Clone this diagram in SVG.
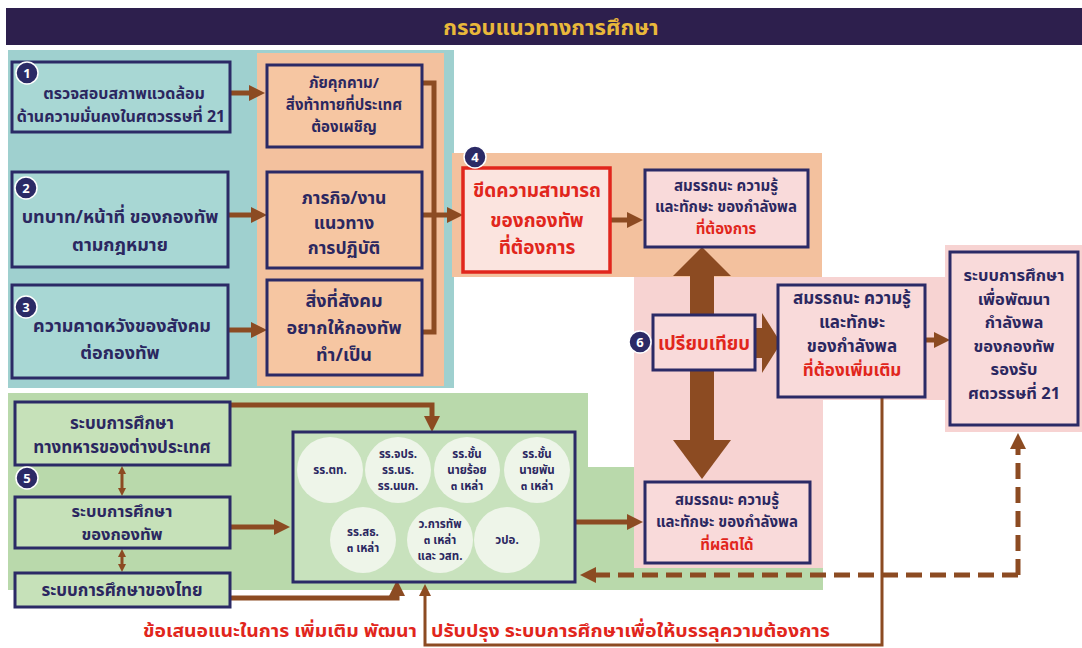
<svg xmlns="http://www.w3.org/2000/svg" width="1082" height="648" viewBox="0 0 1082 648">
<style>
.t{font-family:'Noto Sans Thai','Noto Sans Thai UI','Noto Sans','DejaVu Sans',sans-serif;font-weight:700;text-anchor:middle;fill:#2b2760}
.r{fill:#e1261c}
.box{stroke:#2b2a66;stroke-width:3}
.teal{fill:#a8d7d4}
.peach{fill:#f6c6a2}
.pink{fill:#f9dada}
.green{fill:#c6e1b9}
.arw{fill:none;stroke:#8c4b22;stroke-width:5}
.thin{fill:none;stroke:#8c4b22;stroke-width:3}
.dash{fill:none;stroke:#8c4b22;stroke-width:5;stroke-dasharray:16 8}
.badge{fill:#2b2a66;stroke:#fff;stroke-width:1.5}
.bt{font-family:'Noto Sans','DejaVu Sans',sans-serif;font-weight:700;font-size:13px;fill:#fff;text-anchor:middle}
.circ{fill:#eef5e9}
.ct{font-size:11.5px}
</style>
<defs>
<marker id="ah" viewBox="0 0 10 10" refX="0" refY="5" markerWidth="16" markerHeight="18" markerUnits="userSpaceOnUse" orient="auto"><path d="M0,0 L10,5 L0,10 z" fill="#8c4b22"/></marker>
<marker id="as" viewBox="0 0 10 10" refX="0" refY="5" markerWidth="12" markerHeight="12" markerUnits="userSpaceOnUse" orient="auto"><path d="M0,0 L10,5 L0,10 z" fill="#8c4b22"/></marker>
<marker id="ad" viewBox="0 0 10 10" refX="0" refY="5" markerWidth="8" markerHeight="8" markerUnits="userSpaceOnUse" orient="auto-start-reverse"><path d="M0,0 L10,5 L0,10 z" fill="#8c4b22"/></marker>
</defs>

<!-- title -->
<g id="title">
<rect x="6" y="8" width="1076" height="37" fill="#2d1f4d"/>
<text x="551" y="35" class="t" style="fill:#e9b83a;font-size:22px">กรอบแนวทางการศึกษา</text>
</g>

<!-- background panels -->
<g id="panels">
<rect x="8" y="50" width="446" height="338" fill="#9fd0cf"/>
<rect x="257" y="53" width="187" height="333" fill="#f3c19e"/>
<rect x="452" y="153" width="370" height="124" fill="#f3c19e"/>
<polygon points="8,393 588,393 588,467 823,467 823,590 8,590" fill="#b9d9ab"/>
<polygon points="634,277 945,277 945,400 823,400 823,568 634,568" fill="#f7d3d2"/>
<rect x="945" y="245" width="137" height="187" fill="#f7d3d2"/>
</g>

<!-- connectors -->
<g id="connectors">
<path class="arw" d="M230,93 H249" marker-end="url(#ah)"/>
<path class="arw" d="M228,215 H251" marker-end="url(#ah)"/>
<path class="arw" d="M228,330 H251" marker-end="url(#ah)"/>
<path class="arw" d="M422,83 H434 V332 H422"/>
<path class="arw" d="M422,215 H434"/>
<path class="arw" d="M434,215 H447" marker-end="url(#ah)"/>
<path class="arw" d="M610,220 H627" marker-end="url(#ah)"/>
<path class="arw" d="M925,340 H934" marker-end="url(#ah)"/>
<path class="arw" d="M230,405 H432 V416" marker-end="url(#ah)"/>
<path class="arw" d="M230,527 H274" marker-end="url(#ah)"/>
<path class="arw" d="M230,598 H397 V596" marker-end="url(#ah)"/>
<path class="arw" d="M575,522 H627" marker-end="url(#ah)"/>
<path class="thin" d="M122,474 V488" marker-start="url(#ad)" marker-end="url(#ad)"/>
<path class="thin" d="M122,557 V564" marker-start="url(#ad)" marker-end="url(#ad)"/>
<path class="dash" d="M1018,575 V449" marker-end="url(#ah)"/>
<path class="dash" d="M1018,575 H596" marker-end="url(#ah)"/>
<path class="thin" d="M882,397 V645 H425 V596" marker-end="url(#as)"/>
<!-- big double arrow -->
<rect x="690" y="274" width="24" height="168" fill="#8c4b22"/>
<polygon points="673,276 731,276 702,247" fill="#8c4b22"/>
<polygon points="673,440 731,440 702,479" fill="#8c4b22"/>
<!-- compare arrow -->
<polygon points="755,328 762,328 762,313 781,343 762,373 762,358 755,358" fill="#8c4b22"/>
</g>

<!-- nodes -->
<g id="n1">
<rect x="12" y="62" width="218" height="70" class="teal box"/>
<text class="t" style="font-size:16px"><tspan x="124" y="99">ตรวจสอบสภาพแวดล้อม</tspan><tspan x="121" y="122">ด้านความมั่นคงในศตวรรษที่ 21</tspan></text>
<circle cx="27" cy="73" r="11" class="badge"/><text x="27" y="78" class="bt">1</text>
</g>
<g id="o1">
<rect x="267" y="65" width="155" height="82" class="peach box"/>
<text class="t" style="font-size:15px"><tspan x="344" y="88">ภัยคุกคาม/</tspan><tspan x="344" y="110">สิ่งท้าทายที่ประเทศ</tspan><tspan x="344" y="132">ต้องเผชิญ</tspan></text>
</g>
<g id="n2">
<rect x="12" y="172" width="216" height="95" class="teal box"/>
<text class="t" style="font-size:18px"><tspan x="120" y="223">บทบาท/หน้าที่ ของกองทัพ</tspan><tspan x="120" y="251">ตามกฎหมาย</tspan></text>
<circle cx="26" cy="188" r="11" class="badge"/><text x="26" y="193" class="bt">2</text>
</g>
<g id="o2">
<rect x="267" y="172" width="155" height="96" class="peach box"/>
<text class="t" style="font-size:17.5px"><tspan x="344" y="204">ภารกิจ/งาน</tspan><tspan x="344" y="229">แนวทาง</tspan><tspan x="344" y="254">การปฏิบัติ</tspan></text>
</g>
<g id="n3">
<rect x="12" y="285" width="216" height="93" class="teal box"/>
<text class="t" style="font-size:18px"><tspan x="122" y="332">ความคาดหวังของสังคม</tspan><tspan x="120" y="359">ต่อกองทัพ</tspan></text>
<circle cx="26" cy="307" r="11" class="badge"/><text x="26" y="312" class="bt">3</text>
</g>
<g id="o3">
<rect x="267" y="280" width="155" height="95" class="peach box"/>
<text class="t" style="font-size:18px"><tspan x="344" y="307">สิ่งที่สังคม</tspan><tspan x="344" y="334">อยากให้กองทัพ</tspan><tspan x="344" y="361">ทำ/เป็น</tspan></text>
</g>
<g id="n4">
<rect x="463" y="168" width="147" height="104" fill="#fbe4df" stroke="#e1261c" stroke-width="3.5"/>
<text class="t r" style="font-size:19px"><tspan x="537" y="197">ขีดความสามารถ</tspan><tspan x="537" y="227">ของกองทัพ</tspan><tspan x="537" y="254">ที่ต้องการ</tspan></text>
<circle cx="475" cy="157" r="11" class="badge"/><text x="475" y="162" class="bt">4</text>
</g>
<g id="req">
<rect x="645" y="170" width="163" height="77" class="pink box"/>
<text class="t" style="font-size:15px"><tspan x="726" y="191">สมรรถนะ ความรู้</tspan><tspan x="726" y="212">และทักษะ ของกำลังพล</tspan><tspan x="726" y="234" class="r">ที่ต้องการ</tspan></text>
</g>
<g id="n6">
<rect x="653" y="315" width="102" height="55" class="pink box"/>
<text x="704" y="350" class="t r" style="font-size:18.5px">เปรียบเทียบ</text>
<circle cx="640" cy="342" r="11" class="badge"/><text x="640" y="347" class="bt">6</text>
</g>
<g id="gap">
<rect x="778" y="285" width="147" height="112" class="pink box"/>
<text class="t" style="font-size:17px"><tspan x="852" y="304">สมรรถนะ ความรู้</tspan><tspan x="852" y="328">และทักษะ</tspan><tspan x="852" y="352">ของกำลังพล</tspan><tspan x="852" y="376" class="r">ที่ต้องเพิ่มเติม</tspan></text>
</g>
<g id="result">
<rect x="950" y="252" width="128" height="173" class="pink box"/>
<text class="t" style="font-size:16.5px"><tspan x="1014" y="281">ระบบการศึกษา</tspan><tspan x="1014" y="305">เพื่อพัฒนา</tspan><tspan x="1014" y="328">กำลังพล</tspan><tspan x="1014" y="352">ของกองทัพ</tspan><tspan x="1014" y="375">รองรับ</tspan><tspan x="1014" y="399">ศตวรรษที่ 21</tspan></text>
</g>
<g id="prod">
<rect x="645" y="482" width="165" height="81" class="pink box"/>
<text class="t" style="font-size:15px"><tspan x="727" y="505">สมรรถนะ ความรู้</tspan><tspan x="727" y="527">และทักษะ ของกำลังพล</tspan><tspan x="727" y="550" class="r">ที่ผลิตได้</tspan></text>
</g>
<g id="g1">
<rect x="15" y="402" width="215" height="63" class="green box"/>
<text class="t" style="font-size:17px"><tspan x="122" y="429">ระบบการศึกษา</tspan><tspan x="122" y="453">ทางทหารของต่างประเทศ</tspan></text>
</g>
<g id="g2">
<rect x="15" y="497" width="215" height="51" class="green box"/>
<text class="t" style="font-size:16.5px"><tspan x="122" y="517">ระบบการศึกษา</tspan><tspan x="122" y="540">ของกองทัพ</tspan></text>
<circle cx="27" cy="478" r="11" class="badge"/><text x="27" y="483" class="bt">5</text>
</g>
<g id="g3">
<rect x="15" y="573" width="215" height="34" class="green box"/>
<text x="122" y="596" class="t" style="font-size:17px">ระบบการศึกษาของไทย</text>
</g>
<g id="schools">
<rect x="293" y="432" width="282" height="150" fill="#c8e2bd" class="box"/>
<circle cx="330" cy="470" r="33" class="circ"/>
<circle cx="398" cy="470" r="33" class="circ"/>
<circle cx="467" cy="470" r="33" class="circ"/>
<circle cx="537" cy="470" r="33" class="circ"/>
<circle cx="363" cy="540" r="33" class="circ"/>
<circle cx="440" cy="540" r="33" class="circ"/>
<circle cx="507" cy="540" r="33" class="circ"/>
<text class="t ct" x="330" y="474">รร.ตท.</text>
<text class="t ct"><tspan x="398" y="458">รร.จปร.</tspan><tspan x="398" y="474">รร.นร.</tspan><tspan x="398" y="490">รร.นนก.</tspan></text>
<text class="t ct"><tspan x="467" y="458">รร.ชั้น</tspan><tspan x="467" y="474">นายร้อย</tspan><tspan x="467" y="490">๓ เหล่า</tspan></text>
<text class="t ct"><tspan x="537" y="458">รร.ชั้น</tspan><tspan x="537" y="474">นายพัน</tspan><tspan x="537" y="490">๓ เหล่า</tspan></text>
<text class="t ct"><tspan x="363" y="536">รร.สธ.</tspan><tspan x="363" y="552">๓ เหล่า</tspan></text>
<text class="t ct"><tspan x="440" y="528">ว.การทัพ</tspan><tspan x="440" y="544">๓ เหล่า</tspan><tspan x="440" y="560">และ วสท.</tspan></text>
<text class="t ct" x="507" y="544">วปอ.</text>
</g>
<g id="note">
<text class="t r" style="font-size:18px;text-anchor:start"><tspan x="143" y="637" textLength="274" lengthAdjust="spacingAndGlyphs">ข้อเสนอแนะในการ  เพิ่มเติม พัฒนา</tspan><tspan x="431" y="637" textLength="399" lengthAdjust="spacingAndGlyphs">ปรับปรุง ระบบการศึกษาเพื่อให้บรรลุความต้องการ</tspan></text>
</g>
</svg>
